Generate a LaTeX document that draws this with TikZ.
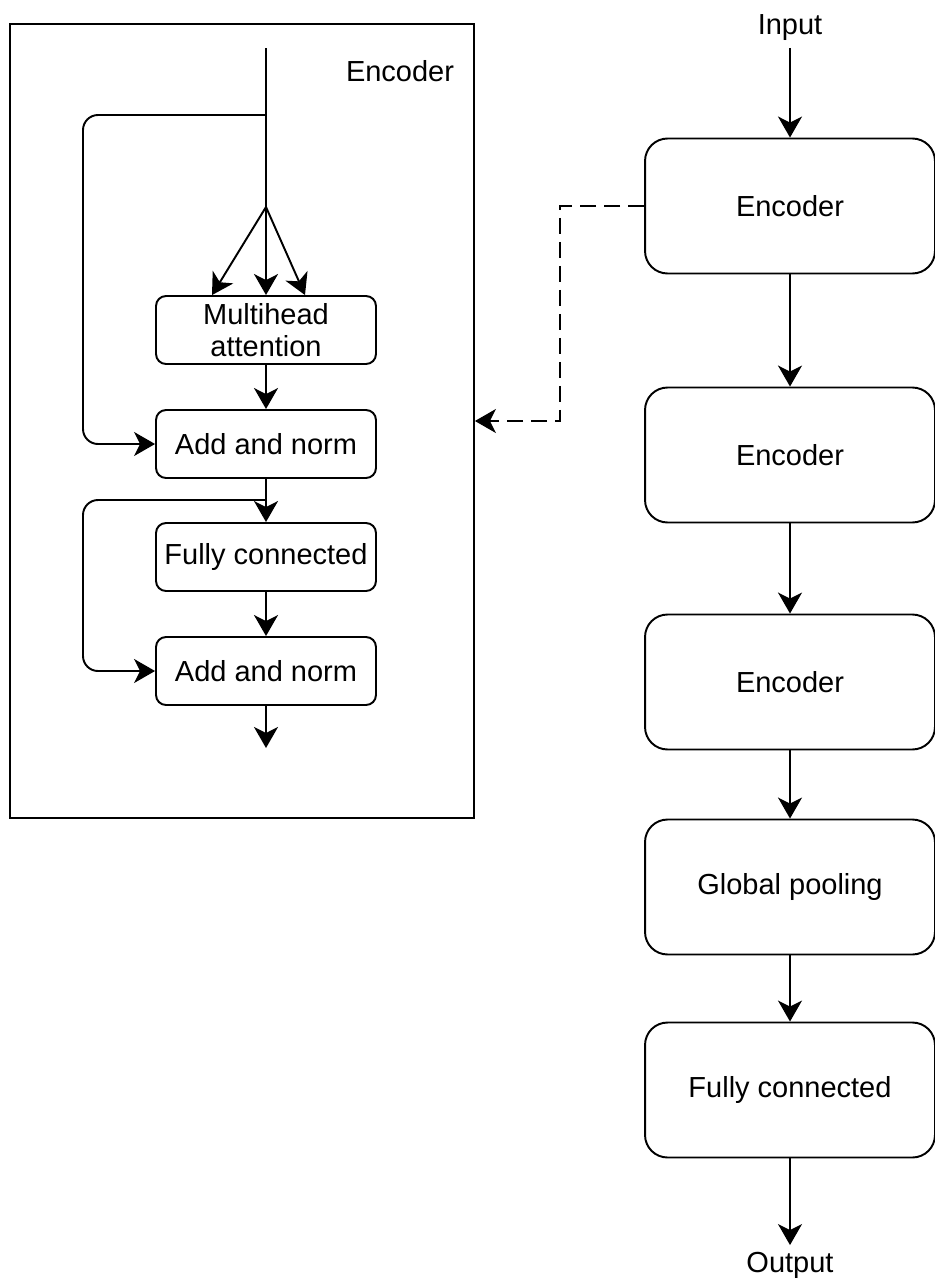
\documentclass[tikz,border=0pt]{standalone}
\usepackage{fontspec}
\setmainfont{Liberation Sans}
\usetikzlibrary{arrows.meta}
\tikzset{
  blk/.style={draw, rounded corners=0.2cm, minimum width=4.4cm, minimum height=1.36cm, align=center, inner sep=0pt},
  bigblk/.style={draw, rounded corners=0.45cm, minimum width=5.8cm, minimum height=2.7cm, align=center},
  arr/.style={-{Stealth[length=0.42cm,width=0.48cm,inset=0.12cm]}},
}
\begin{document}
\begin{tikzpicture}[x=0.02cm, y=-0.02cm, line width=1.1pt, font=\fontsize{16.5}{18}\selectfont]
\useasboundingbox (0,0) rectangle (935,1281);
% encoder detail
\node[draw, minimum width=9.28cm, minimum height=15.88cm, inner sep=0pt] (frame) at (242,421) {};
\node (enclabel) at (400,71) {Encoder};
\coordinate (top) at (266,48);
\coordinate (skipA) at (266,115);
\coordinate (split) at (266,207);
\node[blk] (mha) at (266,330) {Multihead\\attention};
\node[blk] (add1) at (266,444) {Add and norm};
\node[blk] (fc1) at (266,557) {Fully connected};
\node[blk] (add2) at (266,671) {Add and norm};
\coordinate (skipB) at (266,500);
\coordinate (out1) at (266,748);
\draw (top) -- (split);
\draw[arr] (split) -- ([xshift=-1.08cm]mha.north);
\draw[arr] (split) -- (mha.north);
\draw[arr] (split) -- ([xshift=0.78cm]mha.north);
\draw[arr, rounded corners=0.3cm] (skipA) -- (83,115) |- (add1.west);
\draw[arr] (mha) -- (add1);
\draw[arr] (add1) -- (fc1);
\draw[arr, rounded corners=0.3cm] (skipB) -- (83,500) |- (add2.west);
\draw[arr] (fc1) -- (add2);
\draw[arr] (add2) -- (out1);

% whole model
\node (inp) at (790,28) {Input};
\node[bigblk] (enc1) at (790,206) {Encoder};
\node[bigblk] (enc2) at (790,455) {Encoder};
\node[bigblk] (enc3) at (790,682) {Encoder};
\node[bigblk] (pool) at (790,887) {Global pooling};
\node[bigblk] (fc2) at (790,1090) {Fully connected};
\node (outp) at (790,1265) {Output};
\draw[arr] (inp) -- (enc1);
\draw[arr] (enc1) -- (enc2);
\draw[arr] (enc2) -- (enc3);
\draw[arr] (enc3) -- (pool);
\draw[arr] (pool) -- (fc2);
\draw[arr] (fc2) -- (outp);
\draw[arr, dash pattern=on 0.32cm off 0.16cm] (enc1.west) -- (560,206) |- (frame.east);
\end{tikzpicture}
\end{document}
